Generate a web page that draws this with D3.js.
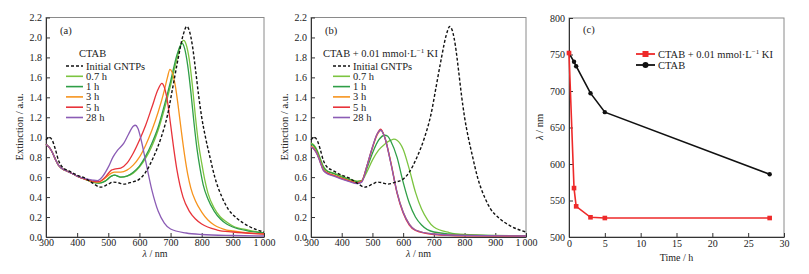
<!DOCTYPE html>
<html>
<head>
<meta charset="utf-8">
<script src="https://cdn.jsdelivr.net/npm/d3@7"></script>
<style>
  body { margin: 0; background: #fff; }
  svg { font-family: "Liberation Serif", "Times New Roman", serif; }
  .frame { fill: none; stroke: #8a8a8a; stroke-width: 1; }
  .axis path, .axis line { stroke: #333; }
  .axis text { font-size: 10px; fill: #222; font-family: "Liberation Serif", serif; }
  .lbl { font-size: 10.5px; fill: #222; }
  .xl { font-size: 10px; fill: #222; }
</style>
</head>
<body>
<svg id="chart" width="809" height="274"></svg>
<script>
// spectra, [wavelength nm, extinction]
const initialGNTPs = [[300,0.97],[310,1.0],[320,0.97],[330,0.88],[340,0.77],[350,0.71],[375,0.66],[400,0.62],[425,0.59],[450,0.54],[475,0.50],[500,0.53],[515,0.55],[530,0.545],[550,0.53],[575,0.55],[600,0.58],[620,0.65],[645,0.8],[670,1.0],[690,1.22],[710,1.55],[725,1.8],[740,2.02],[752,2.11],[760,2.07],[770,1.92],[780,1.68],[790,1.42],[800,1.2],[812,1.0],[825,0.82],[842,0.6],[865,0.4],[885,0.28],[912,0.19],[950,0.11],[1000,0.05]];

const ctab07 = [[300,0.93],[310,0.9],[320,0.85],[330,0.78],[340,0.72],[350,0.69],[375,0.65],[400,0.61],[425,0.58],[450,0.55],[470,0.54],[490,0.56],[510,0.61],[520,0.62],[540,0.6],[560,0.61],[580,0.64],[600,0.7],[620,0.79],[640,0.91],[660,1.07],[680,1.28],[700,1.52],[720,1.78],[732,1.92],[742,1.97],[750,1.93],[760,1.78],[770,1.52],[780,1.2],[790,0.93],[800,0.74],[810,0.57],[820,0.44],[840,0.29],[860,0.2],[880,0.15],[900,0.11],[950,0.07],[1000,0.04]];
const ctab1 = [[300,0.93],[310,0.9],[320,0.85],[330,0.78],[340,0.72],[350,0.69],[375,0.65],[400,0.61],[425,0.58],[450,0.55],[470,0.54],[490,0.56],[510,0.61],[520,0.62],[540,0.6],[560,0.61],[580,0.65],[600,0.71],[620,0.81],[640,0.94],[660,1.1],[680,1.32],[700,1.56],[720,1.82],[730,1.91],[737,1.94],[745,1.89],[755,1.72],[765,1.46],[775,1.15],[785,0.88],[795,0.68],[805,0.52],[820,0.38],[840,0.26],[860,0.18],[880,0.13],[900,0.1],[950,0.06],[1000,0.04]];
const ctab3 = [[300,0.93],[310,0.9],[320,0.85],[330,0.78],[340,0.72],[350,0.69],[375,0.65],[400,0.61],[425,0.58],[450,0.555],[470,0.55],[490,0.59],[510,0.64],[520,0.65],[540,0.65],[560,0.67],[580,0.72],[600,0.8],[620,0.92],[640,1.07],[660,1.25],[680,1.47],[690,1.6],[698,1.68],[705,1.65],[715,1.52],[725,1.3],[735,1.05],[745,0.82],[755,0.63],[765,0.49],[780,0.36],[800,0.25],[820,0.17],[840,0.12],[860,0.09],[880,0.07],[900,0.06],[950,0.04],[1000,0.03]];
const ctab5 = [[300,0.93],[310,0.9],[320,0.85],[330,0.78],[340,0.72],[350,0.69],[375,0.65],[400,0.61],[425,0.58],[450,0.56],[470,0.555],[490,0.6],[510,0.67],[520,0.68],[540,0.69],[560,0.74],[580,0.84],[600,0.97],[620,1.12],[640,1.3],[660,1.48],[672,1.54],[680,1.5],[690,1.36],[700,1.13],[710,0.89],[720,0.68],[730,0.52],[740,0.4],[760,0.26],[780,0.18],[800,0.13],[850,0.07],[900,0.05],[1000,0.03]];
const ctab28 = [[300,0.93],[310,0.9],[320,0.85],[330,0.78],[340,0.72],[350,0.69],[375,0.65],[400,0.61],[425,0.585],[450,0.57],[465,0.565],[480,0.6],[500,0.7],[515,0.8],[530,0.87],[550,0.94],[565,1.03],[580,1.11],[587,1.12],[595,1.09],[605,0.98],[620,0.76],[640,0.47],[660,0.26],[680,0.14],[700,0.08],[750,0.04],[800,0.025],[900,0.015],[1000,0.01]];

const ki07 = [[300,0.94],[310,0.92],[320,0.87],[330,0.79],[340,0.71],[350,0.67],[375,0.64],[400,0.61],[425,0.58],[450,0.56],[465,0.565],[480,0.64],[500,0.77],[520,0.87],[540,0.93],[560,0.97],[570,0.98],[580,0.97],[600,0.88],[620,0.68],[640,0.45],[660,0.28],[680,0.17],[700,0.1],[750,0.045],[800,0.025],[900,0.015],[1000,0.01]];
const ki1 = [[300,0.93],[310,0.91],[320,0.86],[330,0.78],[340,0.7],[350,0.665],[375,0.635],[400,0.6],[425,0.575],[450,0.555],[465,0.565],[480,0.67],[500,0.84],[520,0.97],[540,1.02],[550,1.01],[560,0.96],[580,0.8],[600,0.55],[620,0.34],[640,0.2],[660,0.12],[700,0.05],[800,0.02],[1000,0.01]];
const ki3 = [[300,0.91],[310,0.89],[320,0.84],[330,0.76],[340,0.68],[350,0.65],[375,0.62],[400,0.59],[425,0.565],[450,0.545],[465,0.56],[480,0.69],[500,0.89],[515,1.02],[528,1.07],[540,1.0],[560,0.75],[580,0.45],[600,0.25],[620,0.13],[640,0.07],[700,0.03],[800,0.015],[1000,0.01]];
const ki5 = [[300,0.9],[310,0.88],[320,0.83],[330,0.75],[340,0.67],[350,0.645],[375,0.615],[400,0.585],[425,0.56],[450,0.54],[465,0.555],[480,0.69],[500,0.9],[515,1.03],[527,1.08],[540,1.0],[560,0.74],[580,0.44],[600,0.24],[620,0.12],[640,0.065],[700,0.025],[800,0.012],[1000,0.008]];
const ki28 = [[300,0.9],[310,0.88],[320,0.83],[330,0.75],[340,0.67],[350,0.64],[375,0.61],[400,0.58],[425,0.555],[450,0.535],[465,0.55],[480,0.69],[500,0.9],[515,1.03],[527,1.07],[540,1.0],[560,0.74],[580,0.45],[600,0.25],[620,0.13],[640,0.07],[700,0.03],[800,0.015],[1000,0.01]];

// panel (c): peak position vs time
const times = [0, 0.7, 1, 3, 5, 28];
const peakKI = [752, 567, 542, 527, 526, 526];
const peakCTAB = [752, 740, 734, 697, 671, 586];

const legendLabels = ["Initial GNTPs", "0.7 h", "1 h", "3 h", "5 h", "28 h"];
const colors = ["#111", "#7cc440", "#2f9e47", "#f7941d", "#e8333a", "#8b5cb5"];

const svg = d3.select("#chart");

function spectraPanel(left, right, tag, title, series, legendX) {
  const x = d3.scaleLinear().domain([300, 1000]).range([left, right]);
  const y = d3.scaleLinear().domain([0, 2.2]).range([237, 17.5]);
  const g = svg.append("g");

  g.append("rect").attr("class", "frame")
    .attr("x", left).attr("y", y(2.2)).attr("width", right - left).attr("height", y(0) - y(2.2));

  g.append("g").attr("class", "axis").attr("transform", `translate(0,${y(0)})`)
    .call(d3.axisBottom(x).tickValues(d3.range(300, 1001, 100)).tickSizeInner(-4).tickSizeOuter(0).tickPadding(2)
      .tickFormat(d => d === 1000 ? "1\u2009000" : d));
  g.append("g").attr("class", "axis").attr("transform", `translate(${left},0)`)
    .call(d3.axisLeft(y).tickValues(d3.range(0, 2.21, 0.2)).tickSizeInner(-4).tickSizeOuter(0).tickPadding(4)
      .tickFormat(d3.format(".1f")));

  const line = d3.line().x(d => x(d[0])).y(d => y(d[1])).curve(d3.curveMonotoneX);
  // coloured curves first, dashed initial on top
  series.slice(1).forEach((s, i) => {
    g.append("path").datum(s).attr("d", line)
      .attr("fill", "none").attr("stroke", colors[i + 1]).attr("stroke-width", 1.3);
  });
  g.append("path").datum(series[0]).attr("d", line)
    .attr("fill", "none").attr("stroke", colors[0]).attr("stroke-width", 1.4).attr("stroke-dasharray", "3,2");

  g.append("text").attr("class", "lbl").attr("x", left + 14).attr("y", 34).text(tag);

  // legend
  const lx = legendX;
  const t = g.append("text").attr("class", "lbl").attr("x", left + (tag === "(a)" ? 33 : 12)).attr("y", 57);
  title.forEach(p => {
    const sp = t.append("tspan").text(p.t);
    if (p.sup) sp.attr("font-size", "7px").attr("dy", -4);
    if (p.down) sp.attr("dy", 4);
  });
  legendLabels.forEach((lab, i) => {
    const ly = 66 + i * 10.3;
    g.append("line").attr("x1", lx).attr("x2", lx + 17).attr("y1", ly).attr("y2", ly)
      .attr("stroke", colors[i]).attr("stroke-width", i === 0 ? 1.4 : 1.6)
      .attr("stroke-dasharray", i === 0 ? "3,2" : null);
    g.append("text").attr("class", "lbl").attr("x", lx + 20).attr("y", ly + 3.5).text(lab);
  });

  const xl = g.append("text").attr("class", "xl").attr("text-anchor", "middle")
    .attr("x", (left + right) / 2).attr("y", 257);
  xl.append("tspan").attr("font-style", "italic").text("\u03bb");
  xl.append("tspan").text(" / nm");
  g.append("text").attr("class", "lbl").attr("text-anchor", "middle")
    .attr("transform", `translate(${left - 23},127) rotate(-90)`).text("Extinction / a.u.");
}

spectraPanel(46, 264, "(a)", [{t: "CTAB"}],
  [initialGNTPs, ctab07, ctab1, ctab3, ctab5, ctab28], 66);
spectraPanel(311, 526, "(b)",
  [{t: "CTAB + 0.01 mmol\u00b7L"}, {t: "\u22121", sup: true}, {t: " KI", down: true}],
  [initialGNTPs, ki07, ki1, ki3, ki5, ki28], 333);

// panel (c)
{
  const left = 569, right = 784;
  const x = d3.scaleLinear().domain([0, 30]).range([left, right]);
  const y = d3.scaleLinear().domain([500, 800]).range([237, 18]);
  const g = svg.append("g");
  g.append("rect").attr("class", "frame")
    .attr("x", left).attr("y", y(800)).attr("width", right - left).attr("height", y(500) - y(800));
  g.append("g").attr("class", "axis").attr("transform", `translate(0,${y(500)})`)
    .call(d3.axisBottom(x).ticks(6).tickSizeInner(-4).tickSizeOuter(0).tickPadding(3));
  g.append("g").attr("class", "axis").attr("transform", `translate(${left},0)`)
    .call(d3.axisLeft(y).ticks(6).tickSizeInner(-4).tickSizeOuter(0).tickPadding(4));

  const line = d3.line().x(d => x(d[0])).y(d => y(d[1]));
  const ctabPts = times.map((t, i) => [t, peakCTAB[i]]);
  const kiPts = times.map((t, i) => [t, peakKI[i]]);

  g.append("path").datum(ctabPts).attr("d", line).attr("fill", "none").attr("stroke", "#111").attr("stroke-width", 1.6);
  g.selectAll("circle.ctab").data(ctabPts).enter().append("circle").attr("class", "ctab")
    .attr("cx", d => x(d[0])).attr("cy", d => y(d[1])).attr("r", 2.2).attr("fill", "#111");
  g.append("path").datum(kiPts).attr("d", line).attr("fill", "none").attr("stroke", "#ee2a2a").attr("stroke-width", 1.6);
  g.selectAll("rect.ki").data(kiPts).enter().append("rect").attr("class", "ki")
    .attr("x", d => x(d[0]) - 2.3).attr("y", d => y(d[1]) - 2.3).attr("width", 4.6).attr("height", 4.6).attr("fill", "#ee2a2a");

  g.append("text").attr("class", "lbl").attr("x", left + 14).attr("y", 33).text("(c)");

  // legend
  const lx = 636;
  [["#ee2a2a", "sq"], ["#111", "ci"]].forEach((c, i) => {
    const ly = 54 + i * 11;
    g.append("line").attr("x1", lx).attr("x2", lx + 19).attr("y1", ly).attr("y2", ly)
      .attr("stroke", c[0]).attr("stroke-width", 1.8);
    if (c[1] === "sq") g.append("rect").attr("x", lx + 6.5).attr("y", ly - 3).attr("width", 6).attr("height", 6).attr("fill", c[0]);
    else g.append("circle").attr("cx", lx + 9.5).attr("cy", ly).attr("r", 3).attr("fill", c[0]);
  });
  const t1 = g.append("text").attr("class", "lbl").attr("x", lx + 22).attr("y", 57.5);
  t1.append("tspan").text("CTAB + 0.01 mmol\u00b7L");
  t1.append("tspan").attr("font-size", "7px").attr("dy", -4).text("\u22121");
  t1.append("tspan").attr("dy", 4).text(" KI");
  g.append("text").attr("class", "lbl").attr("x", lx + 22).attr("y", 68.5).text("CTAB");

  g.append("text").attr("class", "xl").attr("text-anchor", "middle")
    .attr("x", (left + right) / 2).attr("y", 261).text("Time / h");
  const yl = g.append("text").attr("class", "lbl").attr("text-anchor", "middle")
    .attr("transform", `translate(${left - 26},127) rotate(-90)`);
  yl.append("tspan").attr("font-style", "italic").text("\u03bb");
  yl.append("tspan").text(" / nm");
}
</script>
</body>
</html>
